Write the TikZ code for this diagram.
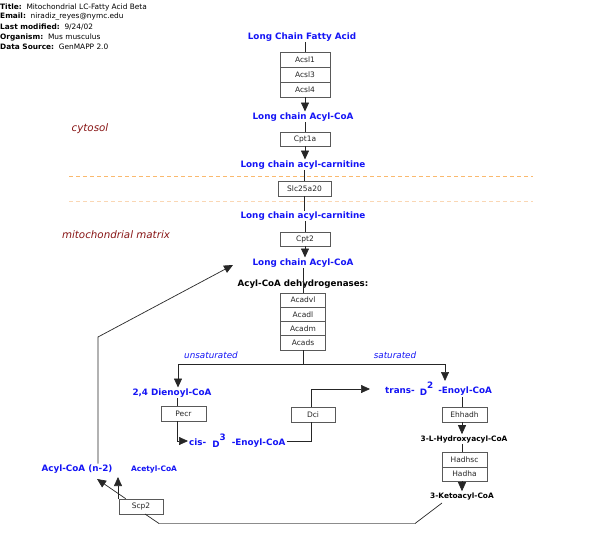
\documentclass[tikz,border=0pt]{standalone}
\usepackage{fontspec}
\setmainfont{DejaVu Sans}
\usetikzlibrary{arrows.meta,calc}
\definecolor{mblue}{RGB}{20,20,245}
\definecolor{zred}{RGB}{135,20,20}
\definecolor{dorange}{RGB}{250,185,110}
\definecolor{lorange}{RGB}{250,215,180}
\tikzset{
  gene/.style={draw=black!65, fill=white, line width=0.7pt, minimum width=50pt, minimum height=15pt, inner sep=0pt, font=\fontsize{7.5}{8}\selectfont, text=black!85},
  met/.style={text=mblue, font=\bfseries\fontsize{8.8}{10}\selectfont, inner sep=1pt},
  smet/.style={font=\bfseries\fontsize{7.4}{9}\selectfont, inner sep=1pt},
  hdr/.style={anchor=west, inner sep=0pt, font=\fontsize{7.4}{8}\selectfont},
  zone/.style={text=zred, font=\itshape\fontsize{10.3}{12}\selectfont, inner sep=0pt},
  branchlbl/.style={text=mblue, font=\itshape\fontsize{8.8}{10}\selectfont, inner sep=0pt},
  conn/.style={draw=black!85, line width=0.7pt},
  arr/.style={conn, -{Triangle[length=9pt,width=8pt]}},
}
\begin{document}
\begin{tikzpicture}[x=1pt,y=-1pt]
\useasboundingbox (0,0) rectangle (610,535);
% header
\node[hdr] (h1) at (0,7) {\textbf{Title:}\ \ Mitochondrial LC-Fatty Acid Beta};
\node[hdr] (h2) at (0,17) {\textbf{Email:}\ \ niradiz\_reyes@nymc.edu};
\node[hdr] (h3) at (0,27) {\textbf{Last modified:}\ \ 9/24/02};
\node[hdr] (h4) at (0,37) {\textbf{Organism:}\ \ Mus musculus};
\node[hdr] (h5) at (0,47) {\textbf{Data Source:}\ \ GenMAPP 2.0};
% zones
\node[zone] (cyt) at (90,129) {cytosol};
\node[zone] (mito) at (116,235) {mitochondrial matrix};
\coordinate (d1a) at (69,176); \coordinate (d1b) at (533,176);
\coordinate (d2a) at (69,201); \coordinate (d2b) at (533,201);
\draw[dorange, dashed, dash pattern=on 4pt off 3pt, line width=0.7pt] (d1a) -- (d1b);
\draw[lorange, dashed, dash pattern=on 4pt off 3pt, line width=0.7pt] (d2a) -- (d2b);
% main column
\node[met] (lcfa) at (302,37) {Long Chain Fatty Acid};
\node[gene] (acsl1) at (305,59.5) {Acsl1};
\node[gene] (acsl3) at (305,74.5) {Acsl3};
\node[gene] (acsl4) at (305,89.5) {Acsl4};
\node[met] (lcacoa1) at (303,117) {Long chain Acyl-CoA};
\node[gene, minimum height=14pt] (cpt1a) at (305,139) {Cpt1a};
\node[met] (lcac1) at (303,165) {Long chain acyl-carnitine};
\node[gene, minimum width=53pt] (slc) at (304.5,188.5) {Slc25a20};
\node[met] (lcac2) at (303,216) {Long chain acyl-carnitine};
\node[gene, minimum height=14pt] (cpt2) at (305,239) {Cpt2};
\node[met] (lcacoa2) at (303,263) {Long chain Acyl-CoA};
\node[smet, font=\bfseries\fontsize{8.7}{10}\selectfont] (dehyd) at (303,284) {Acyl-CoA dehydrogenases:};
\node[gene, minimum width=45pt, minimum height=14.25pt] (acadvl) at (303,300.1) {Acadvl};
\node[gene, minimum width=45pt, minimum height=14.25pt] (acadl) at (303,314.4) {Acadl};
\node[gene, minimum width=45pt, minimum height=14.25pt] (acadm) at (303,328.6) {Acadm};
\node[gene, minimum width=45pt, minimum height=14.25pt] (acads) at (303,342.9) {Acads};

\draw[conn] (acsl1.north |- lcfa.south) -- (acsl1.north);
\draw[arr] (acsl4.south) -- (acsl4.south |- lcacoa1.north);
\draw[conn] (cpt1a.north |- lcacoa1.south) -- (cpt1a.north);
\draw[arr] (cpt1a.south) -- (cpt1a.south |- lcac1.north);
\draw[conn] (slc.north |- lcac1.south) -- (slc.north);
\draw[conn] (slc.south) -- (slc.south |- lcac2.north);
\draw[conn] (cpt2.north |- lcac2.south) -- (cpt2.north);
\draw[arr] (cpt2.south) -- (cpt2.south |- lcacoa2.north);
\draw[conn] (acadvl.north |- lcacoa2.south) -- (acadvl.north);

% branch
\coordinate (bl) at (178,364);
\coordinate (brr) at (445,364);
\node[branchlbl] (unsat) at (211,355) {unsaturated};
\node[branchlbl] (sat) at (395,355) {saturated};
\draw[conn] (acads.south) -- (acads.south |- bl);
\draw[conn] (bl) -- (brr);

\node[met] (dien) at (172,393) {2,4 Dienoyl-CoA};
\node[met, anchor=west] (trans) at (384,389) {trans-\hspace{5pt}\raisebox{-1.5pt}{D}\raisebox{5pt}{2}\hspace{5pt}-Enoyl-CoA};
\draw[arr] (bl) -- (bl |- dien.north);
\draw[arr] (brr) -- ++(0,17);

\node[gene, minimum width=45pt] (pecr) at (183.5,413.5) {Pecr};
\node[met, anchor=west] (cis) at (188,441) {cis-\hspace{6pt}\raisebox{-1.5pt}{D}\raisebox{5pt}{3}\hspace{6pt}-Enoyl-CoA};
\node[gene, minimum width=44pt] (dci) at (313,414.5) {Dci};
\coordinate (px) at (177,0);
\draw[conn] (dien.south -| px) -- (pecr.north -| px);
\draw[arr] (pecr.south -| px) |- (cis.west);
\draw[conn] (cis.east) -| ($(dci.south)+(-2,0)$);
\draw[arr, shorten >=14pt] ($(dci.north)+(-2,0)$) |- (trans.west);

\node[gene, minimum width=45pt] (ehhadh) at (464.5,414.5) {Ehhadh};
\node[smet] (hydroxy) at (464,439) {3-L-Hydroxyacyl-CoA};
\node[gene, minimum width=45pt] (hadhsc) at (464.5,459.5) {Hadhsc};
\node[gene, minimum width=45pt, minimum height=14pt] (hadha) at (464.5,474) {Hadha};
\node[smet] (keto) at (462,496) {3-Ketoacyl-CoA};
\coordinate (ex) at (462,0);
\draw[conn] (trans.south -| ex) -- (ehhadh.north -| ex);
\draw[arr] (ehhadh.south -| ex) -- (hydroxy.north -| ex);
\draw[conn] (hydroxy.south -| ex) -- (hadhsc.north -| ex);
\draw[arr] (hadha.south -| ex) -- (keto.north -| ex);

% recycling
\node[gene, minimum width=44pt] (scp2) at (141,506.5) {Scp2};
\node[met] (acyln2) at (77,469) {Acyl-CoA (n-2)};
\node[smet, text=mblue, font=\bfseries\fontsize{7.5}{9}\selectfont] (acetyl) at (154,469) {Acetyl-CoA};
\coordinate (b1) at (442,503);
\coordinate (b2) at (415,523.5);
\coordinate (b3) at (159,523.5);
\coordinate (b4) at (145,514);
\draw[conn] (b1) -- (b2);
\draw[draw=black!45, line width=0.7pt] (b2) -- (b3);
\draw[conn] (b3) -- (b4);
\coordinate (n2tip) at (97,479);
\coordinate (actip) at (118,477);
\draw[arr] ($(scp2.north west)+(7,0)$) -- (n2tip);
\draw[arr] (scp2.north west -| actip) -- (actip);
\coordinate (corner) at (98,337);
\coordinate (looptip) at (233,265);
\draw[arr] (acyln2.north -| corner) -- (corner) -- (looptip);
\end{tikzpicture}
\end{document}
